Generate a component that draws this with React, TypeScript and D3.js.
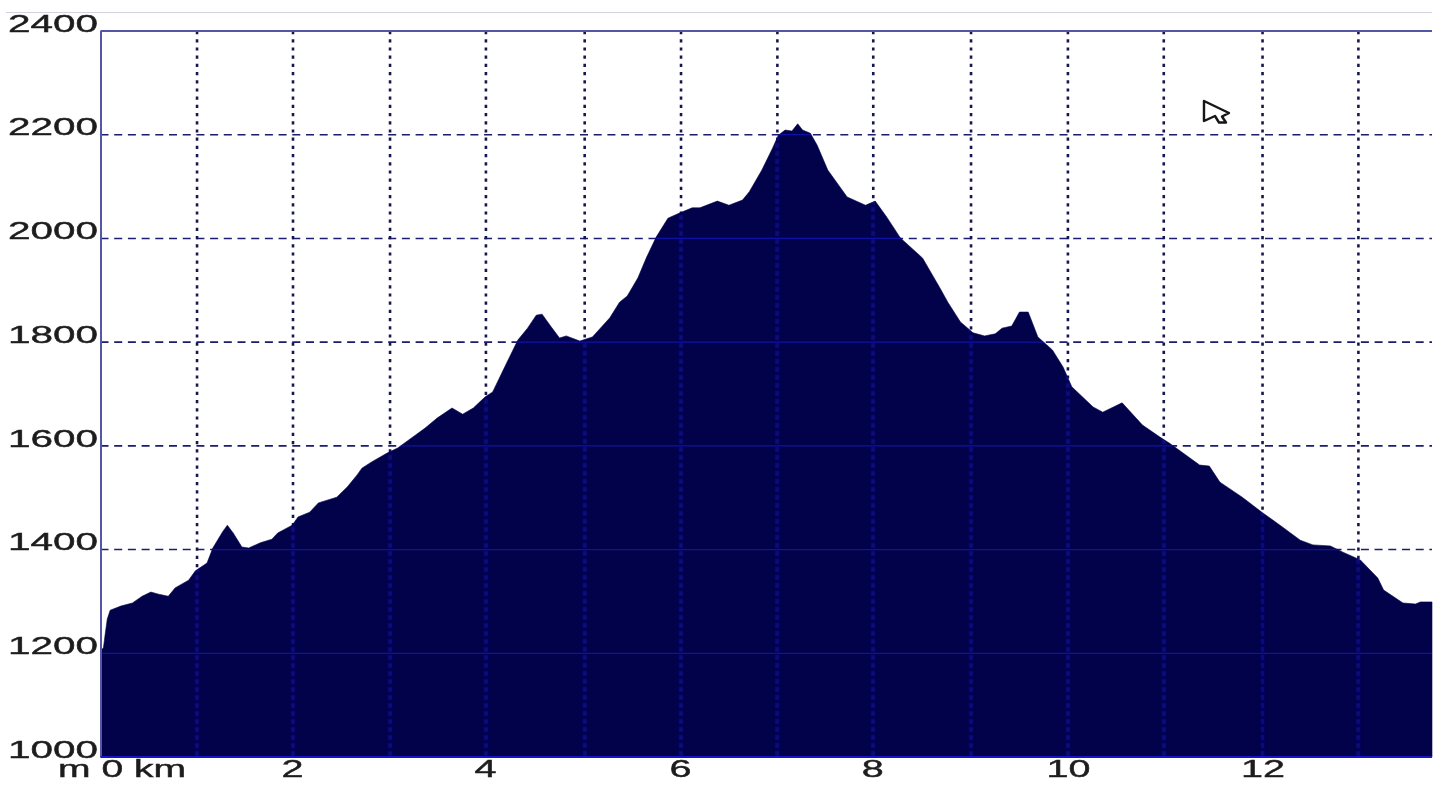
import React from "react";
import * as d3 from "d3";

const distanceKm = [
  0.0, 0.03, 0.05, 0.07, 0.1, 0.21, 0.33, 0.43, 0.52, 0.6, 0.7, 0.77, 0.91, 0.98, 1.1, 1.16, 1.26, 1.31, 1.37, 1.46,
  1.53, 1.65, 1.77, 1.83, 1.98, 2.04, 2.16, 2.25, 2.44, 2.55, 2.65, 2.7, 2.8, 2.96, 3.07, 3.35, 3.48, 3.63, 3.74, 3.85,
  3.97, 4.05, 4.2, 4.31, 4.41, 4.5, 4.56, 4.64, 4.74, 4.81, 4.95, 5.08, 5.26, 5.36, 5.44, 5.55, 5.64, 5.74, 5.86, 5.98,
  6.11, 6.19, 6.37, 6.49, 6.63, 6.7, 6.83, 6.94, 7.0, 7.07, 7.14, 7.2, 7.25, 7.33, 7.4, 7.51, 7.71, 7.9, 8.0, 8.12,
  8.26, 8.49, 8.67, 8.75, 8.88, 9.01, 9.13, 9.24, 9.31, 9.41, 9.49, 9.58, 9.68, 9.83, 9.94, 10.03, 10.25, 10.35, 10.55, 10.76,
  10.94, 11.04, 11.35, 11.45, 11.56, 11.79, 12.0, 12.18, 12.39, 12.52, 12.7, 12.83, 13.01, 13.19, 13.25, 13.45, 13.58, 13.63, 13.75,
];
const elevationM = [
  1206, 1210, 1239, 1266, 1283, 1291, 1297, 1310, 1318, 1314, 1310, 1326, 1341, 1359, 1374, 1403, 1434, 1447, 1432, 1405,
  1403, 1413, 1420, 1432, 1447, 1463, 1472, 1490, 1501, 1521, 1544, 1557, 1569, 1586, 1596, 1634, 1654, 1673, 1661, 1673,
  1694, 1704, 1762, 1804, 1827, 1852, 1854, 1833, 1808, 1812, 1802, 1810, 1847, 1877, 1889, 1924, 1964, 2003, 2039, 2049,
  2059, 2059, 2072, 2064, 2074, 2090, 2132, 2174, 2199, 2209, 2207, 2221, 2209, 2203, 2180, 2132, 2080, 2064, 2072, 2041,
  2001, 1962, 1904, 1877, 1839, 1818, 1812, 1816, 1827, 1831, 1858, 1858, 1810, 1785, 1752, 1714, 1675, 1665, 1683, 1640,
  1617, 1605, 1563, 1561, 1530, 1501, 1471, 1447, 1418, 1409, 1407, 1395, 1380, 1345, 1322, 1297, 1295, 1299, 1299,
];
const yTicks = [1000, 1200, 1400, 1600, 1800, 2000, 2200, 2400];
const yGridTicks = [1200, 1400, 1600, 1800, 2000, 2200];
const xGridKm = [0.997, 1.988, 2.99, 3.98, 5.0, 5.995, 6.99, 7.98, 8.99, 9.99, 10.98, 12.0, 12.99];
const xTickLabels = [
  { at: 1.988, text: "2" },
  { at: 3.98, text: "4" },
  { at: 5.995, text: "6" },
  { at: 7.98, text: "8" },
  { at: 9.99, text: "10" },
  { at: 12.0, text: "12" },
];

const W = 1440;
const H = 787;
const left = 100.5;
const right = 1432;
const top = 31;
const bottom = 757;
const FONT = "'Liberation Sans', Arial, sans-serif";

export default function App() {
  const x = d3.scaleLinear().domain([0, 13.75]).range([left, right]);
  const y = d3.scaleLinear().domain([1000, 2400]).range([bottom, top]);
  const area = d3
    .area<number>()
    .x((_, i) => x(distanceKm[i]))
    .y0(bottom)
    .y1((d) => y(d))
    .curve(d3.curveLinear);
  const areaPath = area(elevationM) ?? "";

  return (
    <svg
      width={W}
      height={H}
      viewBox={`0 0 ${W} ${H}`}
      style={{ position: "absolute", left: 0, top: 0, background: "#fff" }}
    >
      <defs>
        <clipPath id="profile">
          <path d={areaPath} />
        </clipPath>
        <filter id="soft" filterUnits="userSpaceOnUse" x="0" y="0" width={W} height={H}>
          <feGaussianBlur stdDeviation="0.45" />
        </filter>
        <filter id="wide" filterUnits="userSpaceOnUse" x="0" y="0" width={W} height={H}>
          <feGaussianBlur stdDeviation="1.3" />
        </filter>
      </defs>

      <line x1={6} x2={right} y1={12.5} y2={12.5} stroke="#d6cfdc" strokeWidth={1} />

      {/* grid over the white background */}
      <g filter="url(#soft)">
        {yGridTicks.map((t) => (
          <line key={t} x1={left} x2={right} y1={y(t)} y2={y(t)} stroke="#1c1c70" strokeWidth={1.6} strokeDasharray="8 5.7" />
        ))}
        {xGridKm.map((k) => (
          <line key={k} x1={x(k)} x2={x(k)} y1={top} y2={bottom} stroke="#18184f" strokeWidth={2.6} strokeDasharray="3.2 5" />
        ))}
      </g>

      <path d={areaPath} fill="#02024a" stroke="#02024a" strokeWidth={0.6} strokeLinejoin="round" />

      {/* grid seen through the profile */}
      <g clipPath="url(#profile)">
        <g filter="url(#wide)">
          {xGridKm.map((k) => (
            <line key={k} x1={x(k)} x2={x(k)} y1={top} y2={bottom} stroke="#1414b4" strokeWidth={4} strokeDasharray="5 3" opacity={0.55} />
          ))}
        </g>
        {yGridTicks.map((t) => (
          <line key={t} x1={left} x2={right} y1={y(t)} y2={y(t)} stroke="#1010a4" strokeWidth={1.3} />
        ))}
      </g>

      {/* frame */}
      <g filter="url(#soft)">
        <line x1={left} x2={right} y1={top} y2={top} stroke="#5656a8" strokeWidth={2} />
        <line x1={left + 0.5} x2={left + 0.5} y1={top} y2={bottom} stroke="#5656a8" strokeWidth={2} />
        <line x1={left} x2={right} y1={bottom} y2={bottom} stroke="#1212c8" strokeWidth={1.8} />
      </g>

      {/* labels */}
      <g fontFamily={FONT} fontSize={23} fill="#1c1c1c" stroke="#1c1c1c" strokeWidth={0.4} filter="url(#soft)">
        {yTicks.map((t) => (
          <text key={t} x={8} y={y(t) + 0.7} textLength={90} lengthAdjust="spacingAndGlyphs">
            {t}
          </text>
        ))}
        <text x={58} y={777} textLength={128} lengthAdjust="spacingAndGlyphs">
          m 0 km
        </text>
        {xTickLabels.map((l) => (
          <text
            key={l.text}
            x={x(l.at) - (l.text.length === 1 ? 11.5 : 21.5)}
            y={777}
            textLength={l.text.length === 1 ? 22 : 44}
            lengthAdjust="spacingAndGlyphs"
          >
            {l.text}
          </text>
        ))}
      </g>

      {/* mouse pointer captured in the screenshot */}
      <path
        d="M1204 101 L1229 113 L1222 116.5 L1226 122.5 L1219 122.5 L1215 116 L1204 121 Z"
        fill="#fff"
        stroke="#161616"
        strokeWidth={2.4}
        strokeLinejoin="round"
        filter="url(#soft)"
      />
    </svg>
  );
}
